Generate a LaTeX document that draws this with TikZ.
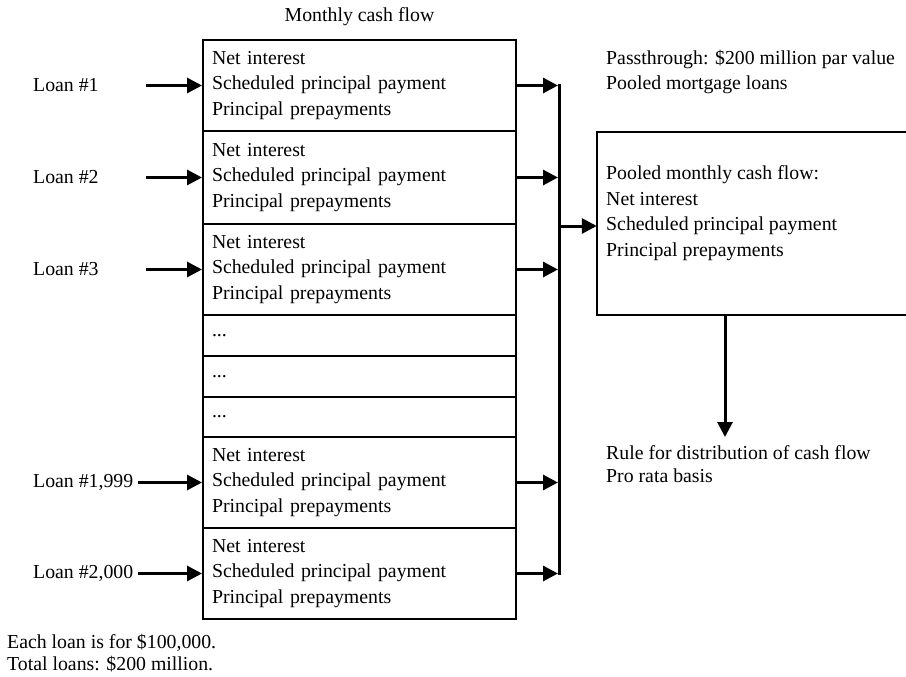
\documentclass[tikz,border=0pt]{standalone}
\usepackage{fontspec}
\setmainfont{Liberation Serif}
\usetikzlibrary{arrows.meta}

\begin{document}
\begin{tikzpicture}[x=1pt,y=-1pt,
  every node/.style={font=\fontsize{19.8}{25.5}\selectfont, inner sep=0pt},
  tight/.style={font=\fontsize{19.8}{22.5}\selectfont},
  rowbox/.style={draw, line width=2pt, text width=295pt, align=left,
    inner xsep=9pt, inner ysep=0pt},
  lbl/.style={anchor=west, align=left},
  flow/.style={line width=3pt, -{Triangle[length=15pt,width=15pt]}},
  bus/.style={line width=3pt},
  poolside/.style={line width=2.5pt, line join=miter},
  ]
\useasboundingbox (0,0) rectangle (906,677);

% heading over the stack of loan cash flows
\node (head) at (359.5,17) {Monthly cash flow};

% stack of per-loan cash flow boxes
\node[rowbox, minimum height=91pt] (r1) at (359.5,85.5)
  {Net interest\\Scheduled principal payment\\Principal prepayments};
\node[rowbox, minimum height=93pt] (r2) at (359.5,177.5)
  {Net interest\\Scheduled principal payment\\Principal prepayments};
\node[rowbox, minimum height=91pt] (r3) at (359.5,269.5)
  {Net interest\\Scheduled principal payment\\Principal prepayments};
\node[rowbox, minimum height=41pt] (d1) at (359.5,335.5) {...};
\node[rowbox, minimum height=41pt] (d2) at (359.5,376.5) {...};
\node[rowbox, minimum height=40pt] (d3) at (359.5,417) {...};
\node[rowbox, minimum height=91pt] (r4) at (359.5,482.5)
  {Net interest\\Scheduled principal payment\\Principal prepayments};
\node[rowbox, minimum height=91pt] (r5) at (359.5,573.5)
  {Net interest\\Scheduled principal payment\\Principal prepayments};

% loan labels
\node[lbl] (l1) at (33,85.5) {Loan \#1};
\node[lbl] (l2) at (33,177.5) {Loan \#2};
\node[lbl] (l3) at (33,269.5) {Loan \#3};
\node[lbl] (l4) at (33,482.5) {Loan \#1,999};
\node[lbl] (l5) at (33,573.5) {Loan \#2,000};

% arrow tails on the loan side
\coordinate (s1) at (146,85.5);
\coordinate (s2) at (146,177.5);
\coordinate (s3) at (146,269.5);
\coordinate (s4) at (138,482.5);
\coordinate (s5) at (138,573.5);

\draw[flow] (s1) -- (r1.west);
\draw[flow] (s2) -- (r2.west);
\draw[flow] (s3) -- (r3.west);
\draw[flow] (s4) -- (r4.west);
\draw[flow] (s5) -- (r5.west);

% collecting bus
\coordinate (b1) at (558,85.5);
\coordinate (b2) at (558,177.5);
\coordinate (b3) at (558,269.5);
\coordinate (b4) at (558,482.5);
\coordinate (b5) at (558,573.5);

\draw[flow] (r1.east) -- (b1);
\draw[flow] (r2.east) -- (b2);
\draw[flow] (r3.east) -- (b3);
\draw[flow] (r4.east) -- (b4);
\draw[flow] (r5.east) -- (b5);

\coordinate (bt) at (559.5,84);
\coordinate (bb) at (559.5,575);
\draw[bus] (bt) -- (bb);

% pooled cash flow box (runs off the right edge)
\node[minimum width=309pt, minimum height=183pt] (pool) at (751.5,223.5) {};
\draw[poolside] (pool.north east) -- (pool.north west)
  -- (pool.south west) -- (pool.south east);
\node[lbl] (pooltxt) at (606,213)
  {Pooled monthly cash flow:\\Net interest\\Scheduled principal payment\\Principal prepayments};

\coordinate (bm) at (559.5,226);
\draw[flow] (bm) -- (bm -| pool.west);

% passthrough description
\node[lbl] (pass) at (606,72)
  {Passthrough: \$200 million par value\\Pooled mortgage loans};

% distribution rule
\coordinate (pd) at (725,315);
\coordinate (rt) at (725,437);
\draw[flow] (pd) -- (rt);
\node[lbl, tight] (rule) at (606,464)
  {Rule for distribution of cash flow\\Pro rata basis};

% footnote
\node[lbl, tight] (note) at (7,653)
  {Each loan is for \$100,000.\\Total loans: \$200 million.};
\end{tikzpicture}
\end{document}
